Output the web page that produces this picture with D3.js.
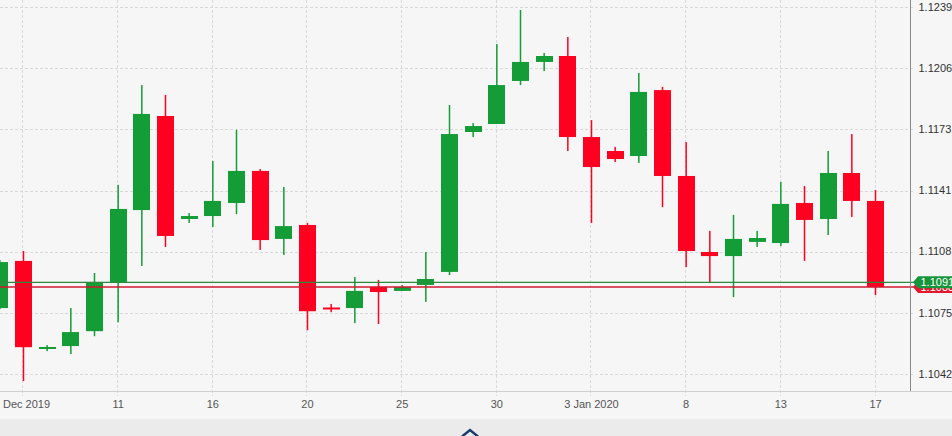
<!DOCTYPE html>
<html><head><meta charset="utf-8">
<script src="https://cdn.jsdelivr.net/npm/d3@7"></script>
<style>
html,body{margin:0;padding:0;background:#f6f6f6;overflow:hidden}
svg{display:block;font-family:"Liberation Sans",Arial,sans-serif}
</style>
</head><body>
<svg id="c" width="952" height="436"></svg>
<script>
// ---- data (EUR/USD daily candles) ----
const dates = ["2019-12-05","2019-12-06","2019-12-08","2019-12-09","2019-12-10","2019-12-11","2019-12-12","2019-12-13",
  "2019-12-15","2019-12-16","2019-12-17","2019-12-18","2019-12-19","2019-12-20","2019-12-22","2019-12-23","2019-12-24",
  "2019-12-25","2019-12-26","2019-12-27","2019-12-29","2019-12-30","2019-12-31","2020-01-01","2020-01-02","2020-01-03",
  "2020-01-05","2020-01-06","2020-01-07","2020-01-08","2020-01-09","2020-01-10","2020-01-12","2020-01-13","2020-01-14",
  "2020-01-15","2020-01-16","2020-01-17"];
const openVals  = [1.10774,1.11027,1.10560,1.10570,1.10650,1.10914,1.11300,1.11805,1.11252,1.11268,1.11338,1.11510,1.11145,
  1.11220,1.10777,1.10774,1.10887,1.10866,1.10898,1.10968,1.11719,1.11762,1.11993,1.12095,1.12127,1.11692,1.11617,1.11590,
  1.11944,1.11483,1.11075,1.11053,1.11129,1.11123,1.11338,1.11252,1.11499,1.11349];
const highVals  = [1.11032,1.11080,1.10575,1.10774,1.10962,1.11435,1.11971,1.11918,1.11284,1.11563,1.11730,1.11520,1.11424,
  1.11231,1.10796,1.10941,1.10925,1.10898,1.11075,1.11864,1.11767,1.12191,1.12374,1.12143,1.12229,1.11783,1.11639,1.12036,
  1.11961,1.11665,1.11188,1.11274,1.11188,1.11451,1.11429,1.11617,1.11708,1.11408];
const lowVals   = [1.10768,1.10382,1.10543,1.10527,1.10623,1.10698,1.11000,1.11102,1.11231,1.11209,1.11279,1.11086,1.11059,
  1.10655,1.10752,1.10693,1.10688,1.10866,1.10807,1.10951,1.11692,1.11762,1.11971,1.12046,1.11617,1.11231,1.11558,1.11553,
  1.11316,1.10994,1.10908,1.10833,1.11102,1.11107,1.11027,1.11166,1.11263,1.10844];
const closeVals = [1.11021,1.10564,1.10565,1.10645,1.10914,1.11306,1.11816,1.11161,1.11268,1.11349,1.11510,1.11139,1.11214,
  1.10757,1.10774,1.10866,1.10860,1.10887,1.10930,1.11708,1.11751,1.11971,1.12095,1.12127,1.11692,1.11531,1.11574,1.11934,
  1.11483,1.11080,1.11053,1.11145,1.11150,1.11333,1.11247,1.11499,1.11349,1.10887];

const xTickDates  = ["2019-12-06","2019-12-11","2019-12-16","2019-12-20","2019-12-25","2019-12-30","2020-01-03","2020-01-08","2020-01-13","2020-01-17"];
const xTickLabels = ["Dec 2019","11","16","20","25","30","3 Jan 2020","8","13","17"];
const yTickValues = [1.1042,1.10748,1.11077,1.11405,1.11733,1.12062,1.1239];
const yTickLabels = ["1.1042","1.1075","1.1108","1.1141","1.1173","1.1206","1.1239"];
const bidPrice = 1.10912;
const lastPrice = 1.10887;

// ---- layout ----
const W = 952, H = 436;
const plotRight = 910, axisY = 391;
const green = "#149c36", red = "#ff0020";

const svg = d3.select("#c");
const x = d3.scalePoint().domain(dates).range([-0.17, 875.5]);
const y = d3.scaleLinear().domain([yTickValues[0], yTickValues[yTickValues.length-1]]).range([374, 7]);

svg.append("rect").attr("width", W).attr("height", H).attr("fill", "#f6f6f6");
svg.append("rect").attr("x", 0).attr("y", 419).attr("width", W).attr("height", H-419).attr("fill", "#ebebeb");

svg.append("defs").append("clipPath").attr("id","plot")
  .append("rect").attr("x",0).attr("y",0).attr("width",plotRight).attr("height",axisY);

// grid
const grid = svg.append("g");
grid.selectAll("line.h").data(yTickValues).join("line")
  .attr("x1", 0).attr("x2", 915)
  .attr("y1", d => Math.round(y(d)) + 0.5).attr("y2", d => Math.round(y(d)) + 0.5)
  .attr("stroke", "#d9d9d9").attr("stroke-dasharray", "3,2");
grid.selectAll("line.v").data(xTickDates).join("line")
  .attr("y1", 0).attr("y2", 396)
  .attr("x1", d => Math.round(x(d)) - 0.5).attr("x2", d => Math.round(x(d)) - 0.5)
  .attr("stroke", "#d9d9d9").attr("stroke-dasharray", "3,2");

// candles
const candles = svg.append("g").attr("clip-path","url(#plot)");
const bw = 17;
const idx = d3.range(dates.length);
candles.selectAll("rect.w").data(idx).join("rect")
  .attr("x", i => x(dates[i]) - 0.75).attr("width", 1.5)
  .attr("y", i => y(highVals[i])).attr("height", i => y(lowVals[i]) - y(highVals[i]))
  .attr("fill", i => closeVals[i] >= openVals[i] ? green : red);
candles.selectAll("rect.b").data(idx).join("rect")
  .attr("x", i => Math.round(x(dates[i]) - bw/2)).attr("width", bw)
  .attr("y", i => y(Math.max(openVals[i], closeVals[i])))
  .attr("height", i => Math.max(2, Math.abs(y(openVals[i]) - y(closeVals[i]))))
  .attr("fill", i => closeVals[i] >= openVals[i] ? green : red);

// price lines
svg.append("line").attr("x1",0).attr("x2",915).attr("y1",y(bidPrice)).attr("y2",y(bidPrice))
  .attr("stroke","#2b8a3e").attr("stroke-width",1.4);
svg.append("line").attr("x1",0).attr("x2",915).attr("y1",y(lastPrice)).attr("y2",y(lastPrice))
  .attr("stroke","#d3172e").attr("stroke-width",1.4);

// axes lines
svg.append("line").attr("x1",0).attr("x2",W).attr("y1",axisY+0.5).attr("y2",axisY+0.5).attr("stroke","#cfcfcf");
svg.append("line").attr("x1",plotRight+0.5).attr("x2",plotRight+0.5).attr("y1",0).attr("y2",axisY).attr("stroke","#8a8a8a");

// y labels
svg.append("g").selectAll("text").data(yTickValues).join("text")
  .attr("x", 918.5).attr("y", d => y(d)).attr("dy","0.35em")
  .attr("font-size", 11).attr("fill", "#333")
  .text((d,i) => yTickLabels[i]);

// x labels (kept inside the left edge)
svg.append("g").selectAll("text").data(xTickDates).join("text")
  .attr("x", d => x(d)).attr("y", 404).attr("dy","0.35em")
  .attr("text-anchor","middle").attr("font-size", 11).attr("fill", "#555")
  .text((d,i) => xTickLabels[i])
  .each(function(d) {
    const bb = this.getBBox();
    if (bb.x < 3) d3.select(this).attr("x", x(d) + (3 - bb.x));
  });

// price badges
function badge(price, color) {
  const cy = y(price);
  const g = svg.append("g");
  g.append("path")
    .attr("d", `M913,${cy} L918,${cy-6} L${W},${cy-6} L${W},${cy+6} L918,${cy+6} Z`)
    .attr("fill", color);
  g.append("text").attr("x", 920.5).attr("y", cy).attr("dy","0.35em")
    .attr("font-size", 11).attr("fill", "#fff").text(d3.format(".5f")(price));
}
badge(lastPrice, "#df1a2f");
badge(bidPrice, "#17953a");

// chevron
svg.append("path").attr("d","M462,436.5 L470,430 L478,436.5")
  .attr("fill","none").attr("stroke","#1d3b6c").attr("stroke-width",2.5);
</script>
</body></html>
